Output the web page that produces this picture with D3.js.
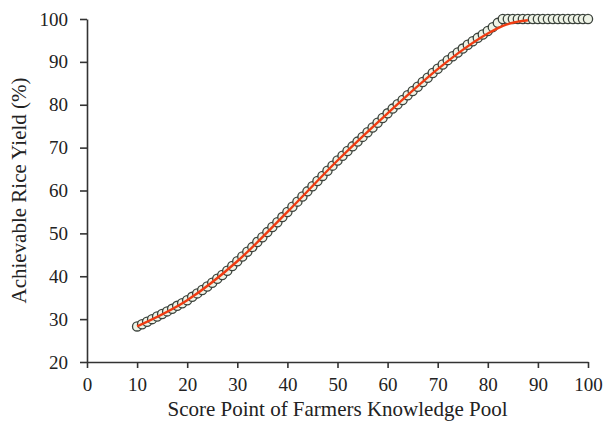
<!DOCTYPE html>
<html>
<head>
<meta charset="utf-8">
<script src="https://cdn.jsdelivr.net/npm/d3@7"></script>
<style>
  body { margin: 0; background: #fff; }
  svg text { font-family: "Liberation Serif", "Times New Roman", serif; fill: #222; }
</style>
</head>
<body>
<div class="chart"></div>
<script>
// observed points, one per score 10..100
const scores = d3.range(10, 101);
const yieldValues = [
  28.3, 28.8, 29.4, 30.0, 30.6, 31.2, 31.8, 32.4, 33.1, 33.7,
  34.4, 35.2, 36.0, 36.8, 37.6, 38.5, 39.4, 40.3, 41.3, 42.4,
  43.5, 44.6, 45.7, 46.8, 48.0, 49.1, 50.3, 51.5, 52.6, 53.8,
  55.0, 56.2, 57.4, 58.6, 59.8, 61.0, 62.2, 63.4, 64.6, 65.8,
  67.0, 68.1, 69.2, 70.3, 71.4, 72.5, 73.6, 74.7, 75.8, 76.9,
  78.0, 79.1, 80.1, 81.1, 82.2, 83.2, 84.2, 85.3, 86.3, 87.4,
  88.4, 89.4, 90.4, 91.3, 92.2, 93.1, 94.0, 94.8, 95.6, 96.4,
  97.2, 98.1, 99.1, 100, 100, 100, 100, 100, 100, 100,
  100, 100, 100, 100, 100, 100, 100, 100, 100, 100,
  100
];
// fitted curve (red)
const fitScores = [10, 20, 30, 40, 50, 60, 70, 75, 80, 83, 86, 88];
const fitValues = [28.3, 34.4, 43.5, 55.0, 67.0, 78.0, 88.3, 92.8, 96.6, 98.4, 99.4, 99.7];

const xTicks = d3.range(0, 101, 10);
const yTicks = d3.range(20, 101, 10);

const width = 605;
const height = 426;
const margin = { top: 19, right: 17, bottom: 64, left: 87 };

const svg = d3.select('.chart')
  .append('svg')
  .attr('width', width)
  .attr('height', height);

const x = d3.scaleLinear().domain([0, 100]).range([margin.left, width - margin.right]);
const y = d3.scaleLinear().domain([20, 100]).range([height - margin.bottom, margin.top]);

const xAxis = svg.append('g')
  .attr('transform', `translate(0, ${y(20)})`)
  .call(d3.axisBottom(x).tickValues(xTicks).tickSize(6).tickPadding(10).tickSizeOuter(0));
const yAxis = svg.append('g')
  .attr('transform', `translate(${x(0)}, 0)`)
  .call(d3.axisLeft(y).tickValues(yTicks).tickSize(7).tickPadding(12).tickSizeOuter(0));

[xAxis, yAxis].forEach(a => {
  a.attr('font-family', null);
  a.select('.domain').attr('stroke', '#333').attr('stroke-width', 1.6);
  a.selectAll('.tick line').attr('stroke', '#333').attr('stroke-width', 1.6);
  a.selectAll('.tick text')
    .attr('font-size', 19)
    .attr('fill', '#222');
});

const points = scores.map((s, i) => ({ s, v: yieldValues[i] }));

svg.append('g')
  .selectAll('circle')
  .data(points)
  .enter()
  .append('circle')
  .attr('cx', d => x(d.s))
  .attr('cy', d => y(d.v))
  .attr('r', 4.6)
  .attr('fill', '#eef3e6')
  .attr('stroke', '#3b423c')
  .attr('stroke-width', 1.3);

const fit = fitScores.map((s, i) => ({ s, v: fitValues[i] }));
svg.append('path')
  .datum(fit)
  .attr('fill', 'none')
  .attr('stroke', '#f03c12')
  .attr('stroke-width', 2.4)
  .attr('d', d3.line().x(d => x(d.s)).y(d => y(d.v)).curve(d3.curveMonotoneX));

svg.append('text')
  .attr('x', (x(0) + x(100)) / 2)
  .attr('y', 416)
  .attr('text-anchor', 'middle')
  .attr('font-size', 21)
  .text('Score Point of Farmers Knowledge Pool');

svg.append('text')
  .attr('transform', `translate(26, ${(y(20) + y(100)) / 2}) rotate(-90)`)
  .attr('text-anchor', 'middle')
  .attr('font-size', 21)
  .text('Achievable Rice Yield (%)');
</script>
</body>
</html>
